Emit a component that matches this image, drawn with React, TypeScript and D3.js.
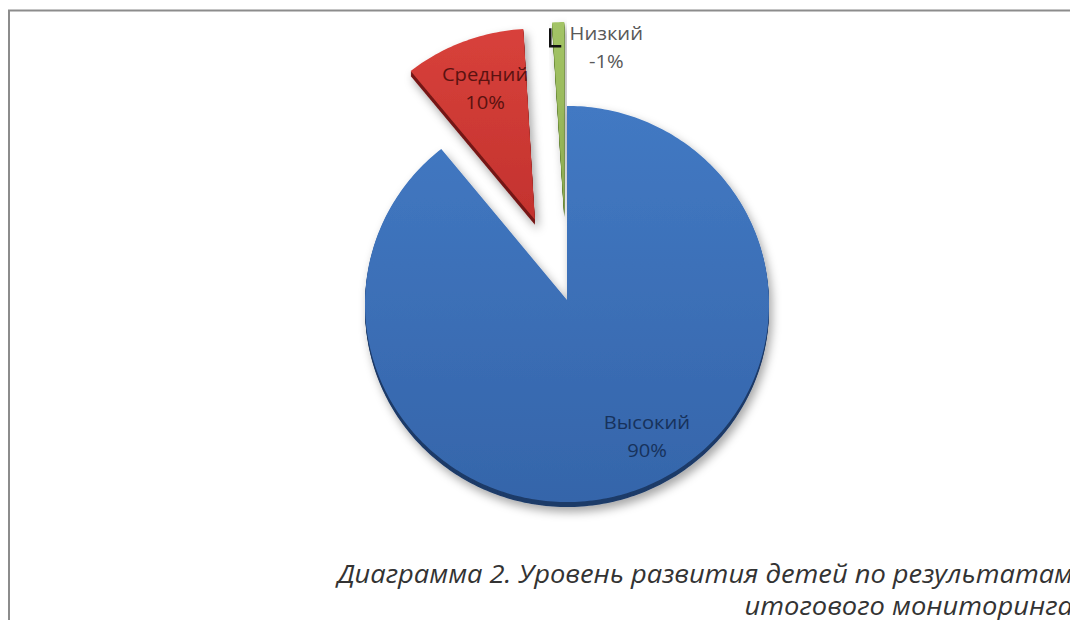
import { useEffect, useRef } from 'react';
import * as d3 from 'd3';

const categories = ['Высокий', 'Средний', 'Низкий'];
const values = [90, 10, -1];
const valueLabels = ['90%', '10%', '-1%'];
const captionLines = [
  'Диаграмма 2. Уровень развития детей по результатам',
  'итогового мониторинга',
];

const topColors = ['#4279c3', '#d8413b', '#a3c466'];
const bottomColors = ['#3565aa', '#c3322e', '#8fae50'];
const sideColors = ['#1d3b68', '#761916', '#5a7a2a'];
const textColors = ['#17325c', '#5a1210', '#595959'];

export default function App() {
  const ref = useRef<SVGSVGElement>(null);

  useEffect(() => {
    if (!ref.current) return;
    const svg = d3.select(ref.current);
    svg.selectAll('*').remove();

    const width = 1070;
    const height = 620;
    svg.attr('width', width).attr('height', height);

    // pie geometry (slight perspective like the excel 3d pie)
    const cx = 567;
    const cy = 300;
    const R = 198;
    const persp = 0.02;
    const sx = 1.02;
    const depth = 5;
    const explode = [0, 87, 88];
    // label placement relative to each slice tip: angle (deg), distance
    const labelPlace = [
      { a: 150, r: 160 },
      { a: -21, r: 139 },
      { a: 14.4, r: 169 },
    ];

    const project = (px: number, py: number): [number, number] => {
      const s = 1 / (1 - (persp * py) / R);
      return [cx + px * s * sx, cy + py * s];
    };

    const defs = svg.append('defs');
    const shadow = defs
      .append('filter')
      .attr('id', 'shadow')
      .attr('x', '-20%')
      .attr('y', '-20%')
      .attr('width', '140%')
      .attr('height', '140%');
    shadow
      .append('feDropShadow')
      .attr('dx', 3)
      .attr('dy', 5)
      .attr('stdDeviation', 5)
      .attr('flood-color', '#000')
      .attr('flood-opacity', 0.35);

    categories.forEach((_, i) => {
      const g = defs
        .append('linearGradient')
        .attr('id', 'grad' + i)
        .attr('x1', 0)
        .attr('y1', 0)
        .attr('x2', 0)
        .attr('y2', 1);
      g.append('stop').attr('offset', '0%').attr('stop-color', topColors[i]);
      g.append('stop').attr('offset', '100%').attr('stop-color', bottomColors[i]);
    });

    // chart area border
    svg
      .append('rect')
      .attr('x', 9)
      .attr('y', 10.5)
      .attr('width', width + 20)
      .attr('height', height + 20)
      .attr('fill', 'none')
      .attr('stroke', '#8c8c8c')
      .attr('stroke-width', 2);

    const pie = d3
      .pie<number>()
      .sort(null)
      .value((d) => Math.abs(d));
    const arcs = pie(values);

    const line = d3.line<[number, number]>().curve(d3.curveLinearClosed);

    const slicePoints = (d: d3.PieArcDatum<number>, i: number) => {
      const mid = (d.startAngle + d.endAngle) / 2;
      const ox = explode[i] * Math.sin(mid);
      const oy = -explode[i] * Math.cos(mid);
      const pts: [number, number][] = [project(ox, oy)];
      const n = Math.max(2, Math.ceil(((d.endAngle - d.startAngle) * 180) / Math.PI));
      for (let k = 0; k <= n; k++) {
        const a = d.startAngle + ((d.endAngle - d.startAngle) * k) / n;
        pts.push(project(ox + R * Math.sin(a), oy - R * Math.cos(a)));
      }
      return { pts, tip: project(ox, oy) };
    };

    const geo = arcs.map((d, i) => slicePoints(d, i));

    // back slices first, front (blue) last
    const order = [2, 1, 0];
    order.forEach((i) => {
      const { pts } = geo[i];
      const g = svg.append('g').attr('filter', 'url(#shadow)');
      for (let t = depth; t >= 1; t--) {
        g.append('path')
          .attr('d', line(pts))
          .attr('transform', `translate(0,${t})`)
          .attr('fill', sideColors[i]);
      }
      g.append('path').attr('d', line(pts)).attr('fill', `url(#grad${i})`);
    });

    // labels
    const labelG = svg
      .append('g')
      .attr('font-family', '"Open Sans", sans-serif')
      .attr('font-size', 18)
      .attr('text-anchor', 'middle')
      .attr('dominant-baseline', 'middle');

    arcs.forEach((_, i) => {
      const [tx, ty] = geo[i].tip;
      const a = (labelPlace[i].a * Math.PI) / 180;
      const lx = tx + labelPlace[i].r * Math.sin(a);
      const ly = ty - labelPlace[i].r * Math.cos(a);
      const t = labelG
        .append('text')
        .attr('fill', textColors[i])
        .attr('transform', `translate(${lx},${ly}) scale(1.12,1)`);
      t.append('tspan').attr('x', 0).attr('y', -14).text(categories[i]);
      t.append('tspan').attr('x', 0).attr('y', 14).text(valueLabels[i]);

      // leader for the small outside label
      if (i === 2) {
        svg
          .append('path')
          .attr('d', `M${lx - 56},${ly - 21}V${ly - 3}H${lx - 45}`)
          .attr('fill', 'none')
          .attr('stroke', '#111')
          .attr('stroke-width', 2.5);
      }
    });

    // caption (right aligned, runs to the edge like the original)
    const cap = svg
      .append('g')
      .attr('font-family', '"Open Sans", sans-serif')
      .attr('font-style', 'italic')
      .attr('font-size', 26)
      .attr('fill', '#333')
      .attr('text-anchor', 'end');
    captionLines.forEach((s, i) => {
      cap
        .append('text')
        .attr('x', 0)
        .attr('y', 0)
        .attr('transform', `translate(1073,${583 + i * 32}) scale(1.05,1)`)
        .text(s);
    });
  }, []);

  return (
    <svg
      ref={ref}
      style={{ position: 'absolute', left: 0, top: 0, background: '#fff' }}
    />
  );
}
